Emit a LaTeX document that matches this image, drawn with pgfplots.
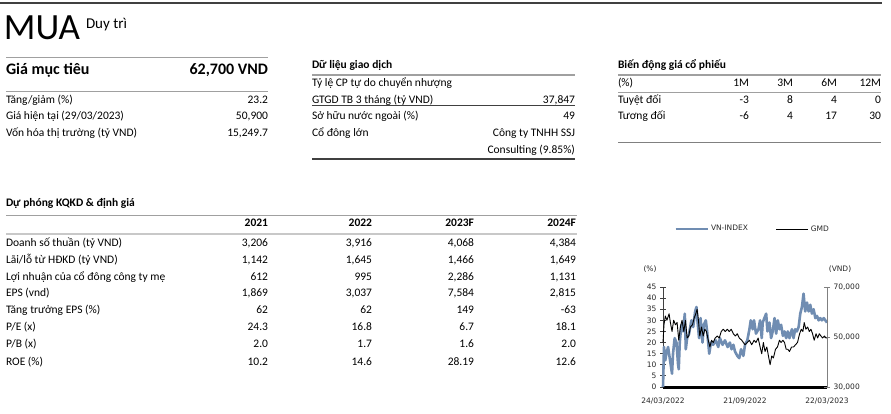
\documentclass[border=0pt]{standalone}
\usepackage{pgfplots}
\pgfplotsset{compat=1.18}
\usepackage{fontspec}
\setmainfont{Carlito}
\newfontfamily\chartfont{DejaVu Sans}
\newcommand\fs[1]{\fontsize{#1}{#1}\selectfont}
\definecolor{vnblue}{RGB}{112,141,178}
\definecolor{rulegray}{RGB}{160,160,160}
\definecolor{lightrule}{RGB}{200,200,200}
\definecolor{darkline}{RGB}{64,64,64}
\definecolor{charttext}{RGB}{40,40,40}

\begin{document}
\begin{tikzpicture}
\useasboundingbox (0,0) rectangle (891pt,-414pt);
\fill[white] (0,0) rectangle (891pt,-414pt);
\begin{scope}[x=1pt,y=-1pt,every node/.style={inner sep=0pt,outer sep=0pt}]
\tikzset{lbl/.style={anchor=base west,font=\fs{11.5}},
         val/.style={anchor=base east,font=\fs{11.5}},
         hdr/.style={anchor=base west,font=\fs{11.5}\bfseries},
         hval/.style={anchor=base east,font=\fs{11.5}\bfseries}}
% top rule
\draw[darkline,line width=1.3pt] (0,3)--(882,3);
% rating block
\node[anchor=base west,font=\fs{37}] at (4,40) {MUA};
\node[anchor=base west,font=\fs{15}] at (86,29) {Duy trì};
\draw[rulegray,line width=1.5pt] (6,57.7)--(268,57.7);
\node[anchor=base west,font=\fs{16}\bfseries] at (6,75) {Giá mục tiêu};
\node[anchor=base east,font=\fs{16}\bfseries] at (268,75) {62,700 VND};
\draw[rulegray,line width=1.5pt] (6,91.7)--(268,91.7);
\node[lbl] at (6,103.3) {Tăng/giảm (\%)};
\node[val] at (268,103.3) {23.2};
\node[lbl] at (6,120) {Giá hiện tại (29/03/2023)};
\node[val] at (268,120) {50,900};
\node[lbl] at (6,136.7) {Vốn hóa thị trường (tỷ VND)};
\node[val] at (268,136.7) {15,249.7};
% trading data
\node[hdr] at (312,69) {Dữ liệu giao dịch};
\draw[rulegray,line width=1.5pt] (312,75)--(575,75);
\node[lbl] at (312,86.7) {Tỷ lệ CP tự do chuyển nhượng};
\node[lbl] at (312,103.3) {GTGD TB 3 tháng (tỷ VND)};
\node[val] at (575,103.3) {37,847};
\draw[darkline,line width=0.8pt] (312,105)--(575,105);
\node[lbl] at (312,120) {Sở hữu nước ngoài (\%)};
\node[val] at (575,120) {49};
\node[lbl] at (312,136.7) {Cổ đông lớn};
\node[val] at (575,136.7) {Công ty TNHH SSJ};
\node[val] at (575,153.3) {Consulting (9.85\%)};
\draw[darkline,line width=1.2pt] (312,159)--(575,159);
% price performance
\node[hdr] at (618,69) {Biến động giá cổ phiếu};
\draw[rulegray,line width=1.5pt] (618,75)--(881,75);
\node[lbl] at (618,86.7) {(\%)};
\node[val] at (749,86.7) {1M};
\node[val] at (793,86.7) {3M};
\node[val] at (837,86.7) {6M};
\node[val] at (881,86.7) {12M};
\draw[rulegray,line width=1.2pt] (618,92.5)--(881,92.5);
\node[lbl] at (618,103.3) {Tuyệt đối};
\node[val] at (749,103.3) {-3};
\node[val] at (793,103.3) {8};
\node[val] at (837,103.3) {4};
\node[val] at (881,103.3) {0};
\node[lbl] at (618,120) {Tương đối};
\node[val] at (749,120) {-6};
\node[val] at (793,120) {4};
\node[val] at (837,120) {17};
\node[val] at (881,120) {30};
\draw[gray,line width=1.2pt] (618,142.7)--(881,142.7);
% forecast table
\node[hdr] at (6,206.7) {Dự phóng KQKD \& định giá};
\draw[rulegray,line width=1.5pt] (6,215.7)--(577,215.7);
\node[hval] at (268,226.7) {2021};
\node[hval] at (372,226.7) {2022};
\node[hval] at (474,226.7) {2023F};
\node[hval] at (576,226.7) {2024F};
\draw[lightrule,line width=2.5pt] (6,234)--(577,234);
% rows
\node[lbl] at (6,246.7) {Doanh số thuần (tỷ VND)};
\node[val] at (268,246.7) {3,206};
\node[val] at (372,246.7) {3,916};
\node[val] at (474,246.7) {4,068};
\node[val] at (576,246.7) {4,384};
\node[lbl] at (6,263.3) {Lãi/lỗ từ HĐKD (tỷ VND)};
\node[val] at (268,263.3) {1,142};
\node[val] at (372,263.3) {1,645};
\node[val] at (474,263.3) {1,466};
\node[val] at (576,263.3) {1,649};
\node[lbl] at (6,280) {Lợi nhuận của cổ đông công ty mẹ};
\node[val] at (268,280) {612};
\node[val] at (372,280) {995};
\node[val] at (474,280) {2,286};
\node[val] at (576,280) {1,131};
\node[lbl] at (6,296.7) {EPS (vnd)};
\node[val] at (268,296.7) {1,869};
\node[val] at (372,296.7) {3,037};
\node[val] at (474,296.7) {7,584};
\node[val] at (576,296.7) {2,815};
\node[lbl] at (6,313.3) {Tăng trưởng EPS (\%)};
\node[val] at (268,313.3) {62};
\node[val] at (372,313.3) {62};
\node[val] at (474,313.3) {149};
\node[val] at (576,313.3) {-63};
\node[lbl] at (6,330) {P/E (x)};
\node[val] at (268,330) {24.3};
\node[val] at (372,330) {16.8};
\node[val] at (474,330) {6.7};
\node[val] at (576,330) {18.1};
\node[lbl] at (6,347.3) {P/B (x)};
\node[val] at (268,347.3) {2.0};
\node[val] at (372,347.3) {1.7};
\node[val] at (474,347.3) {1.6};
\node[val] at (576,347.3) {2.0};
\node[lbl] at (6,365) {ROE (\%)};
\node[val] at (268,365) {10.2};
\node[val] at (372,365) {14.6};
\node[val] at (474,365) {28.19};
\node[val] at (576,365) {12.6};
% chart unit labels
\node[anchor=base,font=\chartfont\fs{7.5},text=charttext] at (650,271.7) {(\%)};
\node[anchor=base,font=\chartfont\fs{7.5},text=charttext] at (840,271.7) {(VND)};
\end{scope}

\begin{axis}[
  at={(663pt,-387pt)}, anchor=south west,
  scale only axis, width=164pt, height=100pt,
  xmin=0, xmax=100, ymin=0, ymax=45,
  axis x line*=bottom, axis y line*=left,
  x axis line style={black,line width=3pt,-},
  y axis line style={darkline,line width=0.8pt,-},
  xtick={0,50,100},
  xticklabels={24/03/2022,21/09/2022,22/03/2023},
  major x tick style={draw=none},
  ytick={0,5,...,45},
  tick align=center, major tick length=6pt,
  y tick style={darkline,line width=0.8pt},
  tick label style={font=\chartfont\fs{7.5},text=charttext},
  /pgf/number format/assume math mode=true,
  xticklabel style={yshift=-4pt},
  clip=false,
]
\addplot[vnblue,line width=2.6pt,line join=round] coordinates {
(0.0,0) (0.6,18) (1.4,12) (2.0,15) (3.1,18) (4.1,13) (5.1,8) (5.5,6) (6.1,15) (7.1,22)
(8.2,20) (9.2,10) (9.6,8) (10.2,20) (11.2,28) (12.2,25) (13.3,33) (13.9,17) (14.7,22) (15.9,24)
(17.3,30) (18.4,27) (19.6,34) (20.4,36) (21.0,30) (22.0,22) (22.9,31) (24.1,20) (24.9,28) (26.1,30)
(26.9,25) (28.2,15) (29.2,20) (30.6,19) (32.2,21) (33.7,18) (34.7,22) (36.3,19) (37.8,21) (39.4,18)
(40.8,20) (41.8,17) (42.9,19) (43.9,16) (45.3,14) (46.5,13) (47.6,17) (49.0,14) (50.0,19) (51.4,21)
(52.7,26) (53.5,30) (54.7,26) (55.5,30) (56.7,24) (58.2,26) (59.2,30) (60.2,22) (60.8,29) (61.8,31)
(62.9,33) (63.7,25) (64.9,29) (65.9,22) (66.9,25) (68.0,31) (69.0,24) (70.0,30) (71.0,26) (72.0,28)
(73.1,23) (74.1,25) (75.1,22) (76.1,25) (77.1,22) (78.6,26) (79.6,22) (80.6,26) (81.6,25) (82.7,27)
(83.7,33) (84.7,36) (85.7,42) (86.7,34) (87.8,38) (88.8,34) (89.8,37) (90.8,33) (91.8,35) (92.9,31)
(93.9,32) (94.9,30) (95.9,31) (96.9,30) (98.0,31) (99.0,30) (100,29)
};
\end{axis}

\begin{axis}[
  at={(663pt,-387pt)}, anchor=south west,
  scale only axis, width=164pt, height=100pt,
  xmin=0, xmax=100, ymin=30000, ymax=70000,
  axis x line=none, axis y line*=right,
  y axis line style={gray,line width=0.8pt,-},
  ytick={30000,50000,70000},
  yticklabels={{30,000},{50,000},{70,000}},
  scaled y ticks=false,
  tick align=center, major tick length=6pt,
  y tick style={gray,line width=0.8pt},
  tick label style={font=\chartfont\fs{7.5},text=charttext},
  /pgf/number format/assume math mode=true,
  clip=false,
  legend columns=2,
  legend style={at={(0.05,1.58)},anchor=west,draw=none,fill=none,
    font=\chartfont\fs{7.5},text=charttext,
    /tikz/every even column/.append style={column sep=26pt}},
  legend image code/.code={\draw[#1] (0pt,0pt) -- (32pt,0pt);},
]
\addlegendimage{vnblue,line width=2.6pt}
\addlegendentry{VN-INDEX}
\addplot[black,line width=0.9pt,line join=round] coordinates {
(0.0,47800) (0.6,54900) (1.4,58400) (2.4,56700) (3.7,59300) (4.5,55800) (5.5,52200) (6.5,56700) (7.6,54900) (8.6,55800)
(9.6,48700) (10.6,54000) (11.6,56700) (12.7,52200) (13.7,56700) (14.7,49600) (15.7,50400) (16.7,54000) (18.0,54900) (19.0,57600)
(20.0,59300) (20.8,61100) (21.6,56700) (22.4,50400) (23.5,54000) (24.5,50400) (25.5,53100) (26.5,52200) (27.6,48700) (28.6,46000)
(29.6,48700) (30.6,47800) (31.8,49600) (33.1,50400) (34.3,49600) (35.5,52200) (36.7,53100) (38.0,52200) (39.2,53100) (40.4,52200)
(41.6,53100) (42.9,51300) (44.1,50400) (45.3,51300) (46.5,49600) (48.0,48700) (49.0,47800) (50.0,46900) (51.4,47800) (52.7,48700)
(54.1,46900) (55.5,48700) (56.7,47800) (58.0,49600) (59.2,46000) (60.2,43300) (61.2,47800) (62.2,44200) (63.3,46000) (64.3,42400)
(65.3,38900) (66.3,42400) (67.3,41600) (68.6,45100) (69.8,46000) (71.0,48700) (72.0,47800) (73.1,48700) (74.1,47800) (75.1,45100)
(76.1,45100) (77.1,44200) (78.4,46000) (79.6,46000) (80.8,46900) (82.0,47800) (83.3,51300) (84.3,53100) (85.3,52200) (86.1,55800)
(87.1,53100) (88.2,54000) (89.2,52200) (90.2,53100) (91.2,51300) (92.2,48700) (93.3,51300) (94.3,49600) (95.3,51300) (96.3,50400)
(97.3,49600) (98.4,50400) (99.4,49600) (100,49600)
};
\addlegendentry{GMD}
\end{axis}
\end{tikzpicture}
\end{document}
